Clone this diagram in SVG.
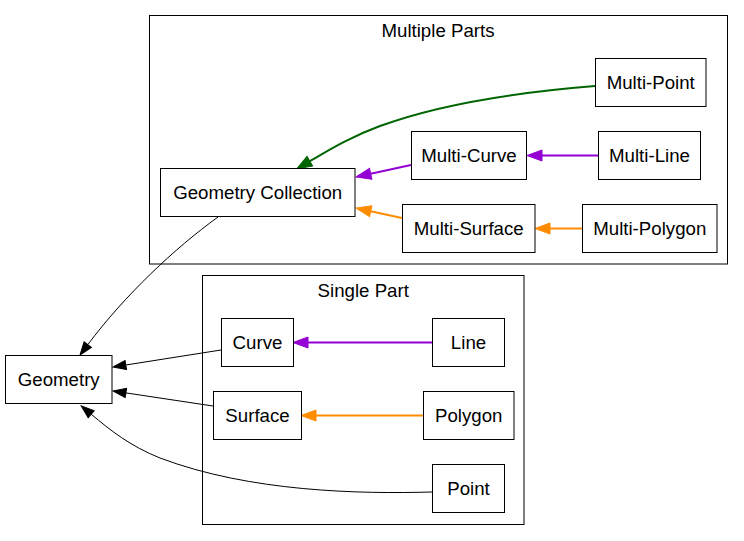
<svg xmlns="http://www.w3.org/2000/svg" width="744" height="541" viewBox="0 0 744 541">
<style>
.cl{fill:none;stroke:#000;stroke-width:1}
.nd rect{fill:#fff;stroke:#000;stroke-width:1}
text{font-family:"Liberation Sans",Arial,sans-serif;font-size:18.67px;fill:#000;text-anchor:middle}
.e{fill:none}
.blk{stroke:#000;stroke-width:1;marker-end:url(#aBlk)}
.grn{stroke:#006400;stroke-width:2;marker-end:url(#aGrn)}
.pur{stroke:#9400d3;stroke-width:2;marker-end:url(#aPur)}
.org{stroke:#ff8c00;stroke-width:2;marker-end:url(#aOrg)}
</style>
<defs>
<marker id="aBlk" markerUnits="userSpaceOnUse" markerWidth="14" markerHeight="10" refX="0" refY="4.65" orient="auto" overflow="visible"><path d="M0,0 L13,4.65 L0,9.3 z" fill="#000" stroke="#000" stroke-width="1"/></marker>
<marker id="aGrn" markerUnits="userSpaceOnUse" markerWidth="16" markerHeight="12" refX="0" refY="5.5" orient="auto" overflow="visible"><path d="M0,0 L15,5.5 L0,11 z" fill="#006400" stroke="#006400" stroke-width="1"/></marker>
<marker id="aPur" markerUnits="userSpaceOnUse" markerWidth="16" markerHeight="12" refX="0" refY="5.5" orient="auto" overflow="visible"><path d="M0,0 L15,5.5 L0,11 z" fill="#9400d3" stroke="#9400d3" stroke-width="1"/></marker>
<marker id="aOrg" markerUnits="userSpaceOnUse" markerWidth="16" markerHeight="12" refX="0" refY="5.5" orient="auto" overflow="visible"><path d="M0,0 L15,5.5 L0,11 z" fill="#ff8c00" stroke="#ff8c00" stroke-width="1"/></marker>
</defs>
<rect width="744" height="541" fill="#fff"/>
<g id="cluster_multi">
<rect class="cl" x="149.5" y="15.5" width="578" height="248.5"/>
<text x="438" y="36.5">Multiple Parts</text>
</g>
<g id="cluster_single">
<rect class="cl" x="202.5" y="275.5" width="321.5" height="249"/>
<text x="363.25" y="296.5">Single Part</text>
</g>
<g id="edges">
<path class="e grn" d="M595,86 C520,92 440,104 380,126 C350,137 329,150 309.8,161.2"/>
<path class="e pur" d="M411,165 L370.7,173.8"/>
<path class="e org" d="M402,218 L370.7,211.2"/>
<path class="e pur" d="M598,155.5 L542,155.5"/>
<path class="e org" d="M582.5,228.5 L550,228.5"/>
<path class="e blk" d="M218,217 C175,248 125,295 87.8,344.6"/>
<path class="e blk" d="M221,350 L125.8,365"/>
<path class="e blk" d="M213,406 L125.9,392.9"/>
<path class="e blk" d="M432,492 C360,494 250,492 160,458 C130,446 110,430 91.2,414.2"/>
<path class="e pur" d="M432,342.5 L308,342.5"/>
<path class="e org" d="M423.5,415.5 L316,415.5"/>
</g>
<g id="node_geometry" class="nd"><rect x="5.5" y="355.5" width="106.5" height="48"/><text x="58.75" y="386">Geometry</text></g>
<g id="node_geomcoll" class="nd"><rect x="160.5" y="168.5" width="194.5" height="48"/><text x="257.75" y="199">Geometry Collection</text></g>
<g id="node_multipoint" class="nd"><rect x="595.5" y="58.5" width="110.5" height="48"/><text x="650.75" y="89">Multi-Point</text></g>
<g id="node_multicurve" class="nd"><rect x="411.5" y="131.5" width="115" height="48"/><text x="469" y="162">Multi-Curve</text></g>
<g id="node_multiline" class="nd"><rect x="598.5" y="131.5" width="102" height="48"/><text x="649.5" y="162">Multi-Line</text></g>
<g id="node_multisurface" class="nd"><rect x="402.5" y="204.5" width="132.5" height="48"/><text x="468.75" y="235">Multi-Surface</text></g>
<g id="node_multipolygon" class="nd"><rect x="582.5" y="204.5" width="134.5" height="48"/><text x="649.75" y="235">Multi-Polygon</text></g>
<g id="node_curve" class="nd"><rect x="221.5" y="318.5" width="72" height="48"/><text x="257.5" y="349">Curve</text></g>
<g id="node_line" class="nd"><rect x="432.5" y="318.5" width="72" height="48"/><text x="468.5" y="349">Line</text></g>
<g id="node_surface" class="nd"><rect x="213.5" y="391.5" width="88" height="48"/><text x="257.5" y="422">Surface</text></g>
<g id="node_polygon" class="nd"><rect x="423.5" y="391.5" width="90.5" height="48"/><text x="468.75" y="422">Polygon</text></g>
<g id="node_point" class="nd"><rect x="432.5" y="464.5" width="72" height="48"/><text x="468.5" y="495">Point</text></g>
</svg>
